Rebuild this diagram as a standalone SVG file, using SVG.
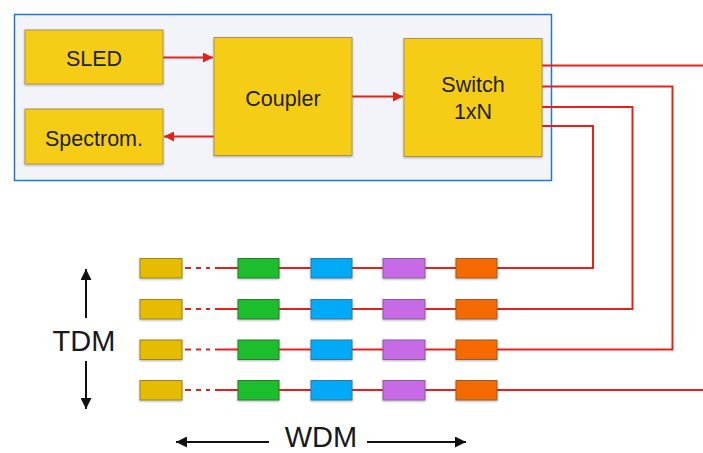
<svg xmlns="http://www.w3.org/2000/svg" width="703" height="453" viewBox="0 0 703 453">
<style>
.big{fill:#F5CD17;stroke:#A8964E;stroke-width:1}
.lbl{font-family:"Liberation Sans",Arial,sans-serif;font-size:21.5px;fill:#1e1e1e;text-anchor:middle}
.axis{font-family:"Liberation Sans",Arial,sans-serif;font-size:29px;fill:#1a1a1a;text-anchor:middle}
.sm{stroke-width:1}
.y{fill:#E6BC00;stroke:#9C8420}
.g{fill:#1DBE2D;stroke:#2A7A30}
.b{fill:#00AAF6;stroke:#2A7AA8}
.p{fill:#C76AE5;stroke:#8A5C9C}
.o{fill:#F56A00;stroke:#9A5A2A}
.red{fill:none;stroke:#E8201A;stroke-width:2}
.blk{fill:none;stroke:#111;stroke-width:2}
</style>
<defs>
<marker id="ra" viewBox="0 0 10 10" refX="10" refY="5" markerWidth="5" markerHeight="5" orient="auto"><path d="M0,0 L10,5 L0,10 Z" fill="#E8201A"/></marker>
<marker id="ka" viewBox="0 0 10 10" refX="10" refY="5" markerWidth="5.5" markerHeight="5.5" orient="auto"><path d="M0,0 L10,5 L0,10 Z" fill="#111"/></marker>
<filter id="sh" x="-10%" y="-10%" width="130%" height="140%"><feDropShadow dx="0" dy="1" stdDeviation="0.8" flood-color="#000" flood-opacity="0.3"/></filter>
</defs>
<rect width="703" height="453" fill="#fff"/>
<g id="system">
<rect x="14.5" y="14.5" width="537" height="166" fill="#F3F4F9" stroke="#1F78D2" stroke-width="1.5"/>
</g>
<g id="connectors">
<line class="red" x1="163" y1="57.5" x2="213" y2="57.5" marker-end="url(#ra)"/>
<line class="red" x1="214" y1="136.5" x2="164" y2="136.5" marker-end="url(#ra)"/>
<line class="red" x1="352" y1="96.5" x2="403" y2="96.5" marker-end="url(#ra)"/>
<polyline class="red" points="542,65.5 703,65.5"/>
<polyline class="red" points="542,86.5 672.5,86.5 672.5,349.5 497,349.5"/>
<polyline class="red" points="542,107 632.5,107 632.5,309 497,309"/>
<polyline class="red" points="542,126 593,126 593,268 497,268"/>
<polyline class="red" points="497,390 703,390"/>
<g id="rowlinks">
<path class="red" d="M185,268h6M196,268h5M206,268h4M215,268h23M279,268h32M352,268h31M425,268h31M185,309h6M196,309h5M206,309h4M215,309h23M279,309h32M352,309h31M425,309h31M185,349.5h6M196,349.5h5M206,349.5h4M215,349.5h23M279,349.5h32M352,349.5h31M425,349.5h31M185,390h6M196,390h5M206,390h4M215,390h23M279,390h32M352,390h31M425,390h31"/>
</g>
<line class="blk" x1="86" y1="318" x2="86" y2="269" marker-end="url(#ka)"/>
<line class="blk" x1="86" y1="361" x2="86" y2="409" marker-end="url(#ka)"/>
<line class="blk" x1="269" y1="442" x2="176" y2="442" marker-end="url(#ka)"/>
<line class="blk" x1="367" y1="442" x2="466" y2="442" marker-end="url(#ka)"/>
</g>
<g id="sled"><rect class="big" x="25" y="30" width="138" height="54" filter="url(#sh)"/><text class="lbl" x="94" y="66">SLED</text></g>
<g id="spectrom"><rect class="big" x="25" y="109" width="138" height="55" filter="url(#sh)"/><text class="lbl" x="94" y="145.5">Spectrom.</text></g>
<g id="coupler"><rect class="big" x="214" y="37.5" width="138" height="118" filter="url(#sh)"/><text class="lbl" x="283" y="105.5">Coupler</text></g>
<g id="switch"><rect class="big" x="404" y="38.5" width="138" height="118" filter="url(#sh)"/><text class="lbl" x="473" y="92">Switch</text><text class="lbl" x="473" y="119">1xN</text></g>
<g id="row1">
<rect class="sm y" x="140" y="258.5" width="42" height="19.5" filter="url(#sh)"/>
<rect class="sm g" x="238" y="258.5" width="41" height="19.5" filter="url(#sh)"/>
<rect class="sm b" x="311" y="258.5" width="41" height="19.5" filter="url(#sh)"/>
<rect class="sm p" x="383" y="258.5" width="42" height="19.5" filter="url(#sh)"/>
<rect class="sm o" x="456" y="258.5" width="41" height="19.5" filter="url(#sh)"/>
</g>
<g id="row2">
<rect class="sm y" x="140" y="299.5" width="42" height="19.5" filter="url(#sh)"/>
<rect class="sm g" x="238" y="299.5" width="41" height="19.5" filter="url(#sh)"/>
<rect class="sm b" x="311" y="299.5" width="41" height="19.5" filter="url(#sh)"/>
<rect class="sm p" x="383" y="299.5" width="42" height="19.5" filter="url(#sh)"/>
<rect class="sm o" x="456" y="299.5" width="41" height="19.5" filter="url(#sh)"/>
</g>
<g id="row3">
<rect class="sm y" x="140" y="340" width="42" height="19.5" filter="url(#sh)"/>
<rect class="sm g" x="238" y="340" width="41" height="19.5" filter="url(#sh)"/>
<rect class="sm b" x="311" y="340" width="41" height="19.5" filter="url(#sh)"/>
<rect class="sm p" x="383" y="340" width="42" height="19.5" filter="url(#sh)"/>
<rect class="sm o" x="456" y="340" width="41" height="19.5" filter="url(#sh)"/>
</g>
<g id="row4">
<rect class="sm y" x="140" y="380.5" width="42" height="19.5" filter="url(#sh)"/>
<rect class="sm g" x="238" y="380.5" width="41" height="19.5" filter="url(#sh)"/>
<rect class="sm b" x="311" y="380.5" width="41" height="19.5" filter="url(#sh)"/>
<rect class="sm p" x="383" y="380.5" width="42" height="19.5" filter="url(#sh)"/>
<rect class="sm o" x="456" y="380.5" width="41" height="19.5" filter="url(#sh)"/>
</g>
<g id="labels">
<text class="axis" x="84" y="351">TDM</text>
<text class="axis" x="321" y="447">WDM</text>
</g>
</svg>
